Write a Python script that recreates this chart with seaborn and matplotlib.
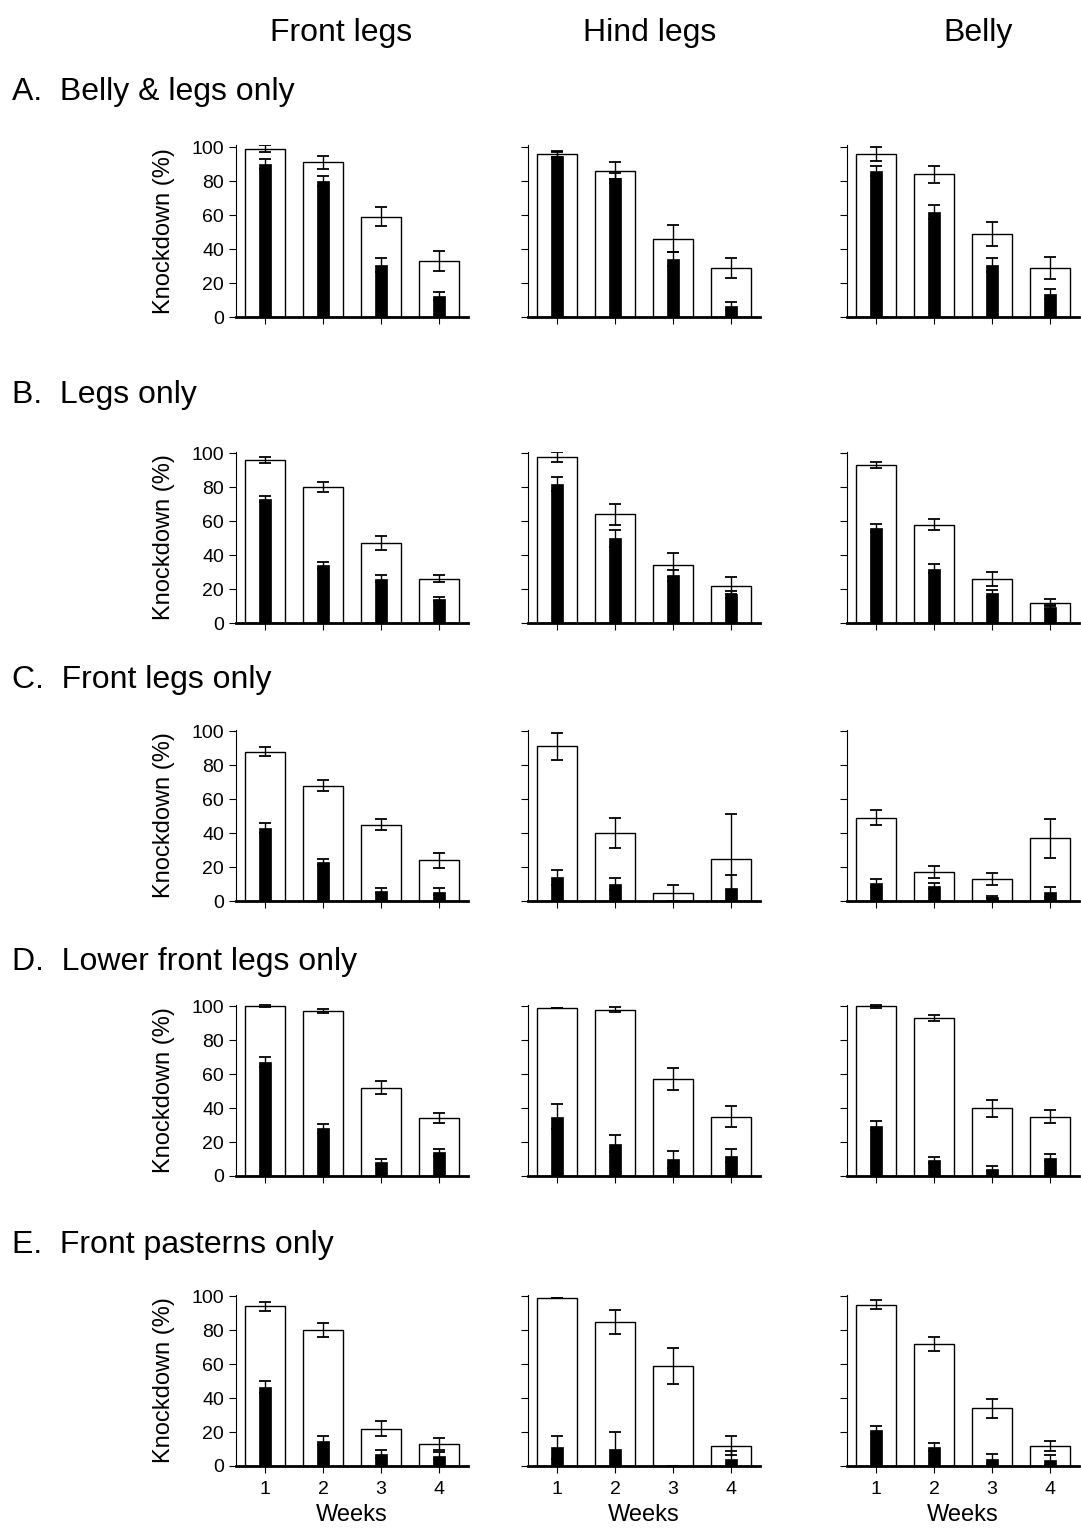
import numpy as np
import matplotlib
matplotlib.use("Agg")
import matplotlib.pyplot as plt
import seaborn as sns
import pandas as pd

# weeks on the x axis
weeks = ["1", "2", "3", "4"]

# row titles and column headers
row_titles = ["A.  Belly & legs only", "B.  Legs only", "C.  Front legs only",
              "D.  Lower front legs only", "E.  Front pasterns only"]
col_titles = ["Front legs", "Hind legs", "Belly"]

# knockdown (%) values, one list per row (A..E)
# open bars + error
front_white = [[99, 91, 59, 33], [96, 80, 47, 26], [88, 68, 45, 24], [100, 97, 52, 34], [94, 80, 22, 13]]
front_white_err = [[2, 4, 5.5, 6], [1.5, 3, 4, 2], [2.5, 3, 3.3, 4.5], [0.6, 1.3, 4, 3], [2.6, 4, 4.5, 3.7]]
hind_white = [[96, 86, 46, 29], [98, 64, 34, 22], [91, 40, 4.5, 25], [99, 98, 57, 35], [99, 85, 59, 12]]
hind_white_err = [[2, 5, 8, 6], [3, 6, 7, 5], [8, 9, 5, 26], [0, 1.5, 6.5, 6], [0, 7, 10.5, 5.5]]
belly_white = [[96, 84, 49, 29], [93, 58, 26, 12], [49, 17, 13, 37], [100, 93, 40, 35], [95, 72, 34, 12]]
belly_white_err = [[4, 5, 7, 6.5], [2, 3, 4, 2], [4.5, 3.7, 3.4, 11.5], [0.8, 2, 5, 4], [2.5, 4, 5.5, 3]]

# filled bars + error
front_black = [[90, 80, 30.5, 12.5], [73, 34, 26, 14], [43, 23, 6, 5.5], [67, 28, 8, 14], [46.5, 15, 7, 6]]
front_black_err = [[3, 3, 4, 2.5], [2, 2, 2, 1.2], [2.7, 2, 1.4, 2], [3, 2.4, 1.8, 2], [3.3, 2.5, 2.3, 2]]
hind_black = [[95, 82, 34, 6.5], [82, 50, 28, 17], [14, 10, 0, 7.5], [35, 19, 10, 12], [11, 10, 0, 4]]
hind_black_err = [[2, 3, 4, 2.5], [4, 5, 3, 2], [4.5, 3.3, 0, 7.7], [7.5, 5, 5, 4], [6.6, 9.8, 0, 5]]
belly_black = [[86, 62, 30.5, 13.5], [56, 32, 17.5, 9.5], [10.7, 9, 2.2, 5.3], [29.5, 9.4, 4.3, 10.7], [21.3, 11.3, 4.1, 3.5]]
belly_black_err = [[3, 4, 4, 3], [2.5, 2.5, 2, 1], [2.3, 1.7, 0.6, 2.7], [2.7, 1.5, 1.6, 2], [2.5, 2.4, 3, 3]]

whites = [front_white, hind_white, belly_white]
white_errs = [front_white_err, hind_white_err, belly_white_err]
blacks = [front_black, hind_black, belly_black]
black_errs = [front_black_err, hind_black_err, belly_black_err]

sns.set_style("white")
plt.rcParams['font.family'] = ['Liberation Sans', 'DejaVu Sans']
plt.rcParams['text.color'] = 'black'
plt.rcParams['axes.labelcolor'] = 'black'
plt.rcParams['xtick.color'] = 'black'
plt.rcParams['ytick.color'] = 'black'

W, H = 1081, 1539
fig = plt.figure(figsize=(W / 100, H / 100), dpi=100)

col_left = [236, 528, 847]
col_width = 232
row_bottom = [317, 623, 901, 1176, 1466]
row_height = 171.5

for r in range(5):
    for c in range(3):
        ax = fig.add_axes([col_left[c] / W, 1 - row_bottom[r] / H, col_width / W, row_height / H])
        df = pd.DataFrame({"week": weeks, "white": whites[c][r], "black": blacks[c][r]})
        sns.barplot(data=df, x="week", y="white", color="white", edgecolor="black",
                    linewidth=1, width=0.7, saturation=1, errorbar=None, ax=ax)
        sns.barplot(data=df, x="week", y="black", color="black", edgecolor="black",
                    linewidth=0.5, width=0.2, saturation=1, errorbar=None, ax=ax)
        xs = [p.get_x() + p.get_width() / 2 for p in ax.patches[:4]]
        ax.errorbar(xs, whites[c][r], yerr=white_errs[c][r], fmt="none", ecolor="black",
                    elinewidth=1, capsize=4, capthick=1.3)
        ax.errorbar(xs, blacks[c][r], yerr=black_errs[c][r], fmt="none", ecolor="black",
                    elinewidth=1, capsize=4, capthick=1.3)
        ax.set_xlim(-0.5, 3.5)
        ax.set_ylim(0, 101)
        ax.set_yticks([0, 20, 40, 60, 80, 100])
        sns.despine(ax=ax)
        ax.spines["bottom"].set_linewidth(2)
        ax.spines["left"].set_linewidth(0.8)
        ax.spines["bottom"].set_color("black")
        ax.spines["left"].set_color("black")
        ax.tick_params(axis="both", direction="out", length=5, width=0.8, colors="black",
                       left=True, bottom=True, labelsize=14)
        ax.tick_params(axis="x", pad=6)
        ax.set_ylabel("")
        ax.set_xlabel("")
        if c == 0:
            ax.set_ylabel("Knockdown (%)", fontsize=17, labelpad=12)
        else:
            ax.set_yticklabels([])
        if r == 4:
            ax.set_xlabel("Weeks", fontsize=17, labelpad=4)
        else:
            ax.set_xticklabels([])

col_title_x = [341, 650, 978]
for c, t in enumerate(col_titles):
    fig.text(col_title_x[c] / W, 1 - 33 / H, t, fontsize=23, ha="center", va="center")

row_title_y = [92, 395, 680, 962, 1245]
for r, t in enumerate(row_titles):
    fig.text(12 / W, 1 - row_title_y[r] / H, t, fontsize=23, ha="left", va="center")

fig.savefig("out.png", dpi=100)
